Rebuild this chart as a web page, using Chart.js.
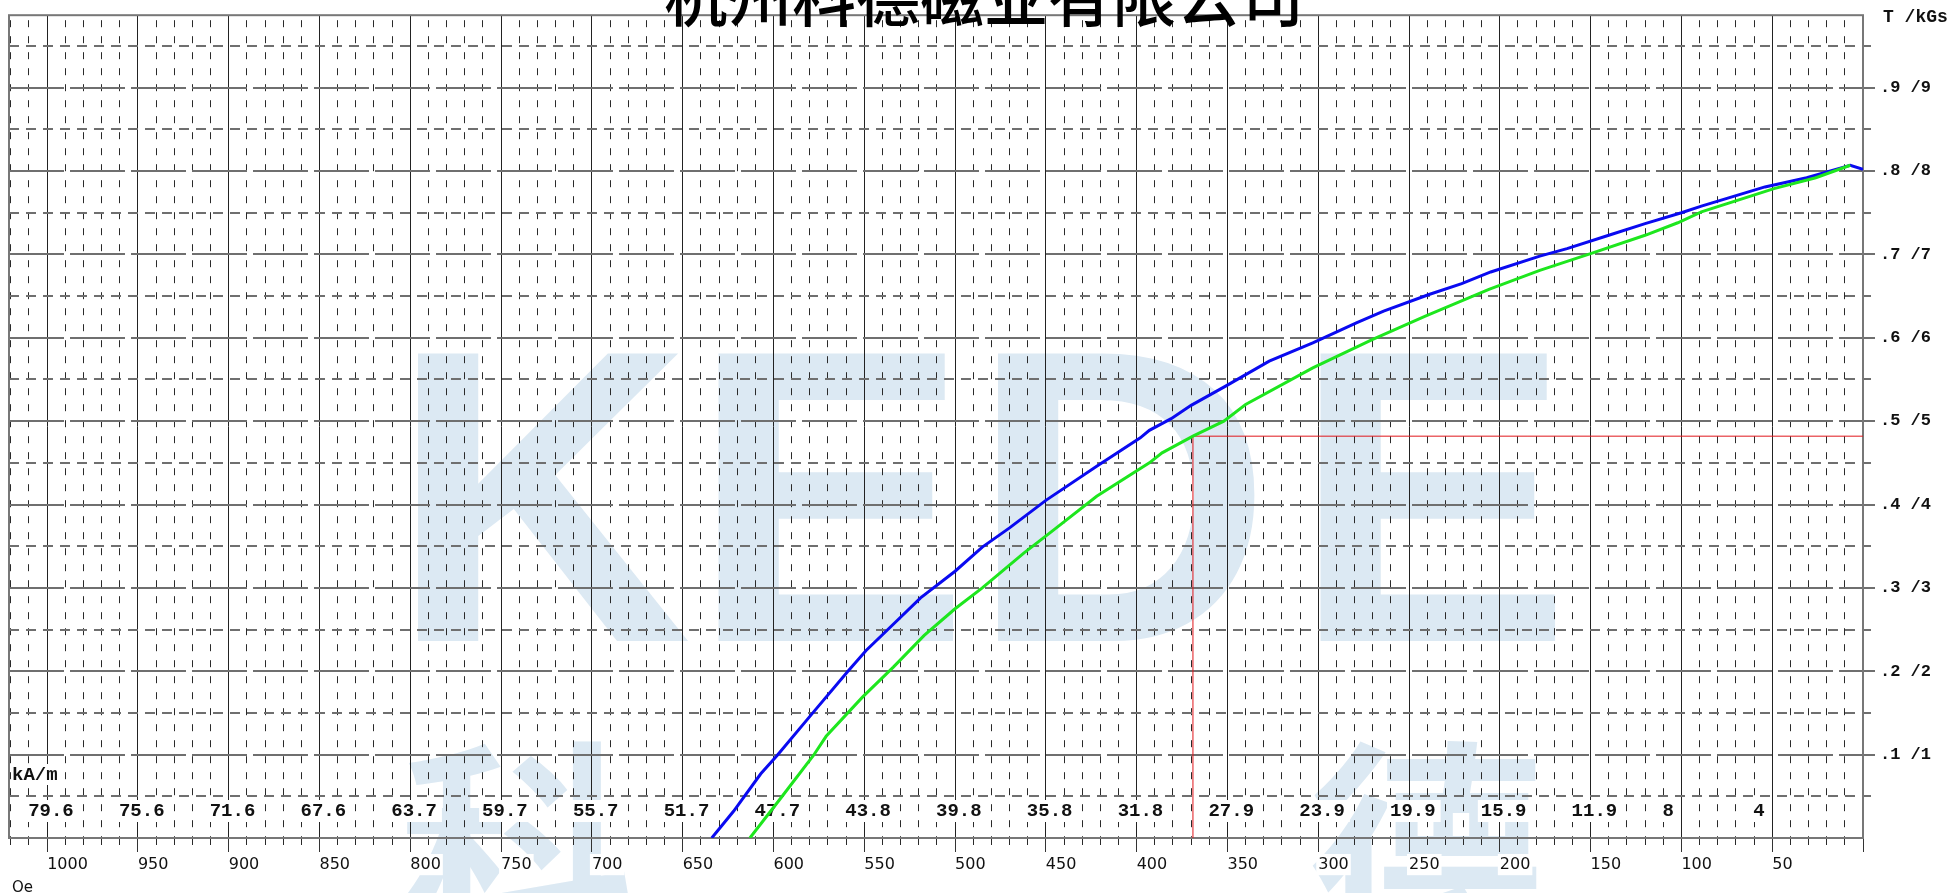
<!DOCTYPE html>
<html>
<head>
<meta charset="utf-8">
<script src="https://cdn.jsdelivr.net/npm/chart.js@4.4.1/dist/chart.umd.min.js"></script>
<style>
    html, body { margin: 0; padding: 0; background: #fff; }
    #wrap { width: 1953px; height: 893px; position: relative; }
</style>
</head>
<body>
<div id="wrap"><canvas id="bhChart"></canvas></div>
<script>
const titleText = "杭州科德磁业有限公司";

// demagnetization curves: H in Oe, B in T
const blueH = [0, 7, 31, 54, 89, 100, 120, 140, 163, 178, 205, 221, 239, 264, 279, 303, 327, 351, 370, 381, 393, 398, 422, 450, 470, 485, 500, 519, 538, 549, 559, 578, 598, 607, 622, 634];
const blueB = [0.802, 0.807, 0.792, 0.781, 0.758, 0.750, 0.737, 0.723, 0.707, 0.698, 0.679, 0.665, 0.652, 0.632, 0.618, 0.594, 0.572, 0.542, 0.519, 0.503, 0.489, 0.480, 0.446, 0.405, 0.372, 0.349, 0.320, 0.288, 0.248, 0.225, 0.200, 0.151, 0.099, 0.077, 0.032, 0];

const greenH = [7, 26, 49, 89, 102, 120, 150, 178, 206, 241, 270, 303, 340, 352, 369, 386, 393, 422, 446, 462, 485, 500, 517, 534, 551, 571, 578, 597, 613];
const greenB = [0.807, 0.792, 0.779, 0.751, 0.738, 0.723, 0.701, 0.681, 0.658, 0.626, 0.598, 0.564, 0.520, 0.500, 0.482, 0.462, 0.450, 0.410, 0.369, 0.342, 0.300, 0.275, 0.243, 0.205, 0.169, 0.122, 0.099, 0.045, 0];

// knee marker
const kneeH = [369, 369, 0];
const kneeB = [0, 0.482, 0.482];

// kA/m values written under each 50 Oe step
const kamAt = [1000, 950, 900, 850, 800, 750, 700, 650, 600, 550, 500, 450, 400, 350, 300, 250, 200, 150, 100, 50];
const kamLabels = ["79.6", "75.6", "71.6", "67.6", "63.7", "59.7", "55.7", "51.7", "47.7", "43.8", "39.8", "35.8", "31.8", "27.9", "23.9", "19.9", "15.9", "11.9", "8", "4"];

const yTickLabels = ["", ".1 /1", ".2 /2", ".3 /3", ".4 /4", ".5 /5", ".6 /6", ".7 /7", ".8 /8", ".9 /9"];

const xMax = 1021;
const yMax = 0.987;

const monoBold = (size) => `bold ${size}px "Liberation Mono", "DejaVu Sans Mono", monospace`;

function toPoints(hs, bs) {
    return hs.map((h, i) => ({ x: h, y: bs[i] }));
}

function onStep(v, step) {
    let r = v / step;
    return Math.abs(r - Math.round(r)) < 1e-6;
}

const paperPlugin = {
    id: "paper",
    beforeDraw(chart) {
        const ctx = chart.ctx;
        ctx.save();
        ctx.fillStyle = "#fff";
        ctx.fillRect(0, 0, chart.width, chart.height);

        // watermark
        ctx.fillStyle = "#dce9f3";
        ctx.textAlign = "center";
        ctx.textBaseline = "alphabetic";
        ctx.font = 'bold 418px "Liberation Sans", Arial, sans-serif';
        [["K", 541], ["E", 830], ["D", 1121], ["E", 1432]].forEach(([ch, x]) => ctx.fillText(ch, x, 641));
        ctx.font = 'bold 235px "Noto Sans CJK SC", sans-serif';
        [["科", 517], ["德", 1426]].forEach(([ch, x]) => ctx.fillText(ch, x, 942));
        ctx.restore();
    },
    beforeDatasetsDraw(chart) {
        const ctx = chart.ctx;
        const { left, top, right, bottom } = chart.chartArea;
        const xs = chart.scales.x;
        ctx.save();
        ctx.strokeStyle = "#777";
        ctx.lineWidth = 2;
        ctx.strokeRect(left, top, right - left, bottom - top);

        ctx.font = monoBold(19);
        ctx.textBaseline = "middle";
        ctx.textAlign = "left";
        let w = ctx.measureText("kA/m").width;
        ctx.fillStyle = "#fff";
        ctx.fillRect(11, 764, w + 3, 21);
        ctx.fillStyle = "#111";
        ctx.fillText("kA/m", 12, 775);

        kamLabels.forEach((label, i) => {
            let x = xs.getPixelForValue(kamAt[i]) - 19;
            let lw = ctx.measureText(label).width;
            ctx.fillStyle = "#fff";
            ctx.fillRect(x - 3, 800, lw + 8, 22);
            ctx.fillStyle = "#111";
            ctx.fillText(label, x, 811);
        });
        ctx.restore();
    },
    afterDraw(chart) {
        const ctx = chart.ctx;
        ctx.save();
        ctx.fillStyle = "#fff";
        ctx.fillRect(664, 0, 648, 14);
        ctx.fillStyle = "#000";
        ctx.font = '500 64px "Noto Sans CJK SC", sans-serif';
        ctx.textAlign = "center";
        ctx.textBaseline = "alphabetic";
        ctx.fillText(titleText, 984, 21);

        ctx.fillStyle = "#111";
        ctx.textAlign = "left";
        ctx.textBaseline = "middle";
        ctx.font = monoBold(18);
        ctx.fillText("T /kGs", 1883, 17);
        ctx.font = '15px "DejaVu Sans", sans-serif';
        ctx.fillText("Oe", 12, 888);
        ctx.restore();
    }
};

const minorX = (c) => onStep(c.tick.value, 50) ? "rgba(0,0,0,0)" : "#2a2a2a";
const minorY = (c) => onStep(c.tick.value, 0.1) ? "rgba(0,0,0,0)" : "#6f6f6f";
const majorY = (c) => c.tick.value === 0 ? "rgba(0,0,0,0)" : "#6f6f6f";

const config = {
    type: "line",
    data: {
        datasets: [
            { data: toPoints(greenH, greenB), borderColor: "#1ee61e", borderWidth: 3, pointRadius: 0, tension: 0 },
            { data: toPoints(blueH, blueB), borderColor: "#0a0af0", borderWidth: 3, pointRadius: 0, tension: 0 },
            { data: toPoints(kneeH, kneeB), borderColor: "#e0161b", borderWidth: 1, pointRadius: 0, tension: 0 }
        ]
    },
    options: {
        responsive: true,
        maintainAspectRatio: false,
        animation: false,
        layout: { padding: { left: 9, top: 9, right: 0, bottom: 0 } },
        plugins: { legend: { display: false }, tooltip: { enabled: false } },
        scales: {
            x2: {
                type: "linear", position: "bottom", weight: 0, reverse: true, min: 0, max: xMax,
                ticks: { display: false, stepSize: 10, includeBounds: false, autoSkip: false },
                grid: { color: minorX, tickColor: minorX, lineWidth: 1, tickLength: 7, tickWidth: 1 },
                border: { display: false, dash: [7, 9], dashOffset: 11 },
                afterFit: (s) => { s.height = 0; }
            },
            x: {
                type: "linear", position: "bottom", weight: 1, reverse: true, min: 0, max: xMax,
                ticks: {
                    stepSize: 50, includeBounds: false, autoSkip: false, maxRotation: 0, align: "start", padding: 3,
                    color: "#111", font: { family: '"DejaVu Sans", sans-serif', size: 16 },
                    showLabelBackdrop: true, backdropColor: "#fff", backdropPadding: { x: 2, y: 1 },
                    callback: (v) => v === 0 ? "" : String(v)
                },
                grid: { color: "#222", tickColor: "#333", lineWidth: 1, tickLength: 14, tickWidth: 1 },
                border: { display: false },
                afterFit: (s) => { s.height = 55; }
            },
            y2: {
                type: "linear", position: "right", weight: 0, min: 0, max: yMax,
                ticks: { display: false, stepSize: 0.05, includeBounds: false, autoSkip: false },
                grid: { color: minorY, tickColor: minorY, lineWidth: 2, tickLength: 8, tickWidth: 2 },
                border: { display: false, dash: [10, 7] },
                afterFit: (s) => { s.width = 0; }
            },
            y: {
                type: "linear", position: "right", weight: 1, min: 0, max: yMax,
                ticks: {
                    stepSize: 0.1, includeBounds: false, autoSkip: false, padding: 5,
                    color: "#111", font: { family: '"Liberation Mono", "DejaVu Sans Mono", monospace', size: 17, weight: "bold" },
                    callback: (v) => yTickLabels[Math.round(v * 10)] || ""
                },
                grid: { color: majorY, tickColor: majorY, lineWidth: 2, tickLength: 12, tickWidth: 2 },
                border: { display: false, dash: [55, 6] },
                afterFit: (s) => { s.width = 90; }
            }
        }
    },
    plugins: [paperPlugin]
};

new Chart(document.getElementById("bhChart"), config);
</script>
</body>
</html>
